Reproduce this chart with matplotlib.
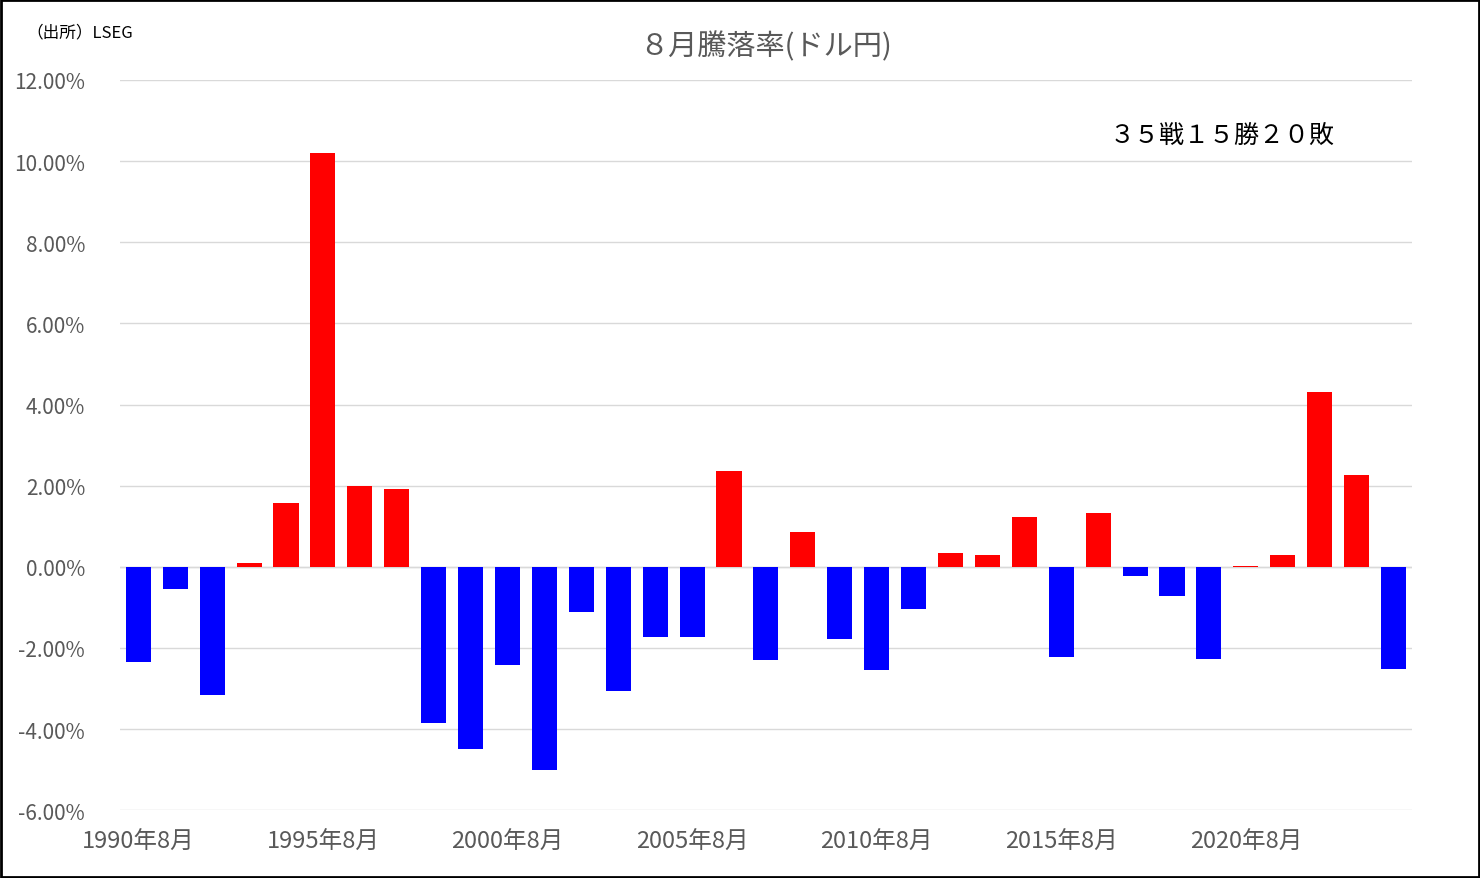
import matplotlib.pyplot as plt
from matplotlib.ticker import FuncFormatter, MultipleLocator

plt.rcParams["font.family"] = "Noto Sans CJK JP"

years = list(range(1990, 2025))
changes = [-2.35, -0.55, -3.15, 0.10, 1.58, 10.20, 1.98, 1.92, -3.85, -4.48,
           -2.42, -5.00, -1.12, -3.05, -1.72, -1.72, 2.37, -2.30, 0.85, -1.77,
           -2.55, -1.03, 0.35, 0.30, 1.22, -2.23, 1.33, -0.23, -0.73, -2.28,
           0.02, 0.30, 4.30, 2.27, -2.52]
tick_years = [1990, 1995, 2000, 2005, 2010, 2015, 2020]

fig = plt.figure(figsize=(14.8, 8.79), dpi=100)
ax = fig.add_axes([0.081, 0.077, 0.873, 0.831])

colors = ["#ff0000" if v > 0 else "#0000ff" for v in changes]
ax.bar(years, changes, width=0.68, color=colors, zorder=3)

ax.set_ylim(-6, 12)
ax.set_xlim(1989.5, 2024.5)
ax.yaxis.set_major_locator(MultipleLocator(2))
ax.yaxis.set_major_formatter(FuncFormatter(lambda v, p: f"{v:.2f}%"))
ax.grid(axis="y", color="#d9d9d9", linewidth=1, zorder=0)
ax.axhline(0, color="#d9d9d9", linewidth=1, zorder=1)
for s in ax.spines.values():
    s.set_visible(False)
ax.tick_params(axis="y", length=0, labelsize=15, colors="#595959", pad=25)
ax.set_xticks(tick_years)
ax.set_xticklabels([f"{y}年8月" for y in tick_years])
ax.tick_params(axis="x", length=0, labelsize=17, colors="#595959", pad=14)

ax.set_title("８月騰落率(ドル円)", fontsize=21, color="#595959", pad=18)
fig.text(0.018, 0.962, "（出所）LSEG", fontsize=12, color="#000000", va="center")
ax.text(0.94, 0.925, "３５戦１５勝２０敗", transform=ax.transAxes, fontsize=18,
        ha="right", va="center")

fig.patches.append(plt.Rectangle((0.001, 0.001), 0.998, 0.998, transform=fig.transFigure,
                                 fill=False, edgecolor="black", linewidth=2))
fig.savefig("out.png")
